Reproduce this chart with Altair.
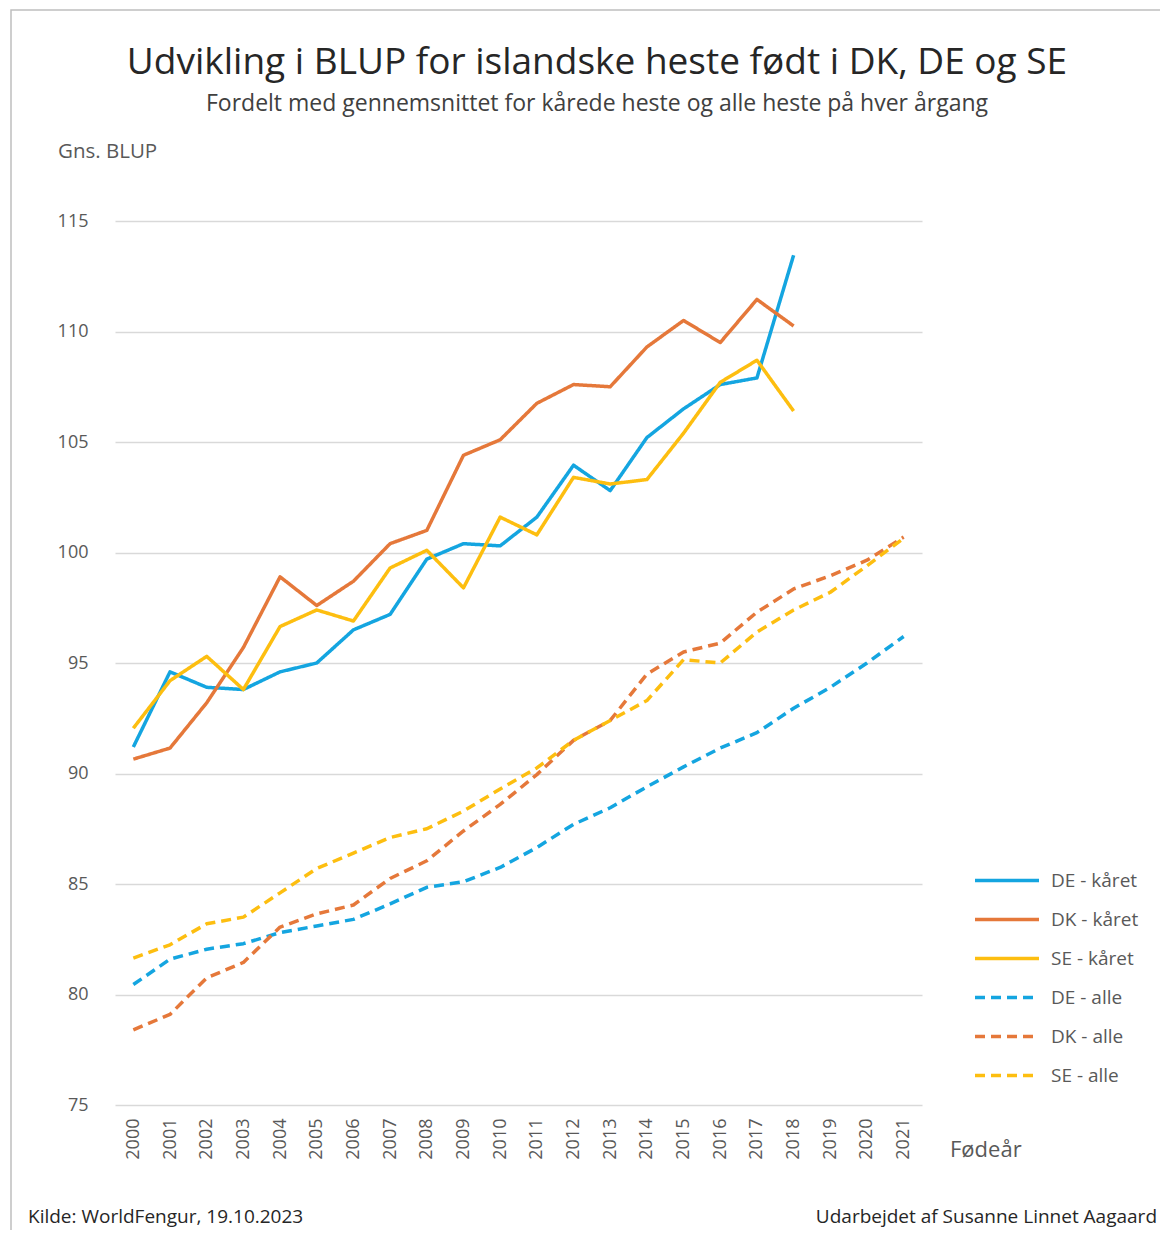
import altair as alt
import pandas as pd

years = [str(y) for y in range(2000, 2022)]

series_names = ["DE - kåret", "DK - kåret", "SE - kåret", "DE - alle", "DK - alle", "SE - alle"]
series_colors = ["#14A5E0", "#E5783A", "#FDBE10", "#14A5E0", "#E5783A", "#FDBE10"]
series_dash = [[1, 0], [1, 0], [1, 0], [10, 6], [10, 6], [10, 6]]

de_kaaret = [91.2, 94.6, 93.9, 93.8, 94.6, 95.0, 96.5, 97.2, 99.7, 100.4, 100.3,
             101.6, 103.95, 102.8, 105.2, 106.5, 107.6, 107.9, 113.45]
dk_kaaret = [90.65, 91.15, 93.2, 95.7, 98.9, 97.6, 98.7, 100.4, 101.0, 104.4, 105.1,
             106.75, 107.6, 107.5, 109.3, 110.5, 109.5, 111.45, 110.25]
se_kaaret = [92.05, 94.2, 95.3, 93.8, 96.65, 97.4, 96.9, 99.3, 100.1, 98.4, 101.6,
             100.8, 103.4, 103.1, 103.3, 105.4, 107.7, 108.7, 106.4]
de_alle = [80.45, 81.6, 82.05, 82.3, 82.8, 83.1, 83.4, 84.1, 84.85, 85.1, 85.75,
           86.65, 87.7, 88.45, 89.4, 90.3, 91.15, 91.85, 92.95, 93.9, 95.0, 96.2]
dk_alle = [78.4, 79.1, 80.75, 81.45, 83.05, 83.65, 84.05, 85.25, 86.05, 87.4, 88.6,
           89.95, 91.5, 92.4, 94.5, 95.5, 95.9, 97.3, 98.35, 98.95, 99.65, 100.7]
se_alle = [81.65, 82.25, 83.2, 83.5, 84.6, 85.7, 86.4, 87.1, 87.5, 88.3, 89.3,
           90.25, 91.5, 92.4, 93.3, 95.15, 95.0, 96.4, 97.4, 98.2, 99.4, 100.65]

y_ticks = [75, 80, 85, 90, 95, 100, 105, 110, 115]

title_text = "Udvikling i BLUP for islandske heste født i DK, DE og SE"
subtitle_text = "Fordelt med gennemsnittet for kårede heste og alle heste på hver årgang"
y_title = "Gns. BLUP"
x_title = "Fødeår"
source_text = "Kilde: WorldFengur, 19.10.2023"
author_text = "Udarbejdet af Susanne Linnet Aagaard"

rows = []
for name, vals in zip(series_names, [de_kaaret, dk_kaaret, se_kaaret, de_alle, dk_alle, se_alle]):
    for yr, v in zip(years, vals):
        rows.append({"year": yr, "series": name, "value": v})
df = pd.DataFrame(rows)

FONT = "Open Sans"
GREY = "#595959"

W, H = 807, 884

legend = alt.Legend(
    title=None, orient="none", legendX=858, legendY=647,
    symbolType="stroke", symbolSize=4096, symbolStrokeWidth=3.5,
    labelFont=FONT, labelFontSize=19, labelColor=GREY, labelOffset=10,
    clipHeight=25, rowPadding=14,
)

lines = alt.Chart(df).mark_line(strokeWidth=3.5, strokeJoin="round", strokeCap="butt").encode(
    x=alt.X("year:O", sort=years, title=None,
            axis=alt.Axis(labelAngle=-90, labelAlign="right", labelBaseline="middle",
                          labelPadding=13, labelFontSize=18, labelColor=GREY, labelFont=FONT,
                          ticks=False, domain=False, grid=False)),
    y=alt.Y("value:Q", title=None,
            scale=alt.Scale(domain=[75, 115], nice=False, zero=False),
            axis=alt.Axis(values=y_ticks, labelPadding=27, labelFontSize=18, labelColor=GREY,
                          labelFont=FONT, ticks=False, domain=False, grid=True,
                          gridColor="#D9D9D9", gridWidth=1.5)),
    color=alt.Color("series:N", scale=alt.Scale(domain=series_names, range=series_colors), legend=legend),
    strokeDash=alt.StrokeDash("series:N", scale=alt.Scale(domain=series_names, range=series_dash), legend=legend),
)

one = pd.DataFrame({"k": [0]})

frame = alt.Chart(one).mark_rect(fillOpacity=0, stroke="#BFBFBF", strokeWidth=1.5).encode(
    x=alt.value(-104), x2=alt.value(1200), y=alt.value(-211), y2=alt.value(1200)
)

def txt(text, x, y, size, align="left", color=GREY):
    return alt.Chart(one).mark_text(
        text=text, font=FONT, fontSize=size, align=align, baseline="middle", color=color
    ).encode(x=alt.value(x), y=alt.value(y))

texts = [
    txt(title_text, 482, -158, 37, "center", "#262626"),
    txt(subtitle_text, 482, -117, 23, "center", "#404040"),
    txt(y_title, -57, -69, 20.5),
    txt(x_title, 835, 929, 22),
    txt(source_text, -87, 996, 19, color="#262626"),
    txt(author_text, 1042, 996, 19, "right", "#262626"),
]

chart = alt.layer(frame, lines, *texts).properties(
    width=W, height=H,
    autosize=alt.AutoSizeParams(type="none"),
    padding={"left": 107, "top": 213, "right": 238, "bottom": 125},
    background="white",
).configure_view(strokeWidth=0, stroke="transparent")

chart.save("out.html", embed_options={"renderer": "svg", "actions": False})
